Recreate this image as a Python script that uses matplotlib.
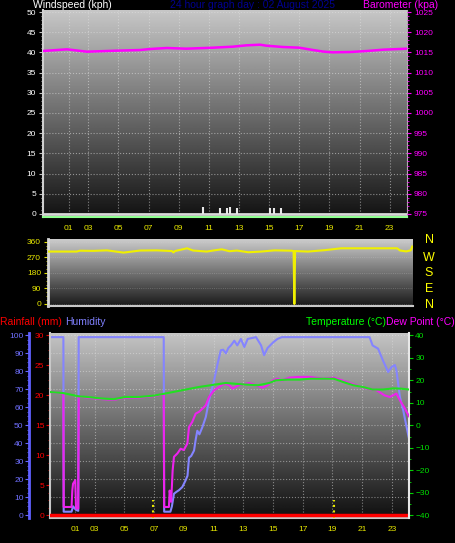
import numpy as np
import matplotlib
matplotlib.use('Agg')
import matplotlib.pyplot as plt
from matplotlib.ticker import MultipleLocator

plt.rcParams['font.family'] = ['Liberation Sans', 'DejaVu Sans']

# hours of the day and tick labels shared by the panels
tick_hours = [1.7, 3, 5, 7, 9, 11, 13, 15, 17, 19, 21, 23]
tick_labels = ['01', '03', '05', '07', '09', '11', '13', '15', '17', '19', '21', '23']

# barometer (hPa)
baro_t = [0, 1.59, 2.91, 4.9, 6.44, 7.1, 8.2, 9.5, 11.3, 12.6, 13.5, 14.4, 14.8,
          15.9, 17.0, 17.9, 18.6, 19.2, 20.4, 21.5, 22.6, 24.15]
baro_v = [1015.35, 1015.76, 1015.18, 1015.43, 1015.59, 1015.84, 1016.09, 1015.92,
          1016.17, 1016.42, 1016.75, 1016.91, 1016.67, 1016.34, 1016.17, 1015.6,
          1015.2, 1015.02, 1015.1, 1015.35, 1015.68, 1015.92]

# windspeed (all calm) and gusts
wind_t = [0, 24.15]
wind_v = [0, 0]
gust_t = [10.6, 11.75, 12.2, 12.4, 12.9, 15.05, 15.3, 15.8]
gust_v = [1.8, 1.6, 1.6, 1.8, 1.6, 1.6, 1.6, 1.6]

# wind direction (deg)
wdir_t = [0, 1.9, 2.1, 3.0, 3.9, 5.0, 6.1, 7.2, 8.2, 8.3, 8.4, 9.2, 9.6, 10.5, 11.0,
          11.5, 12.0, 12.5, 13.25, 14.1, 15.0, 16.1, 16.25, 16.3, 16.35, 17.2, 18.3,
          18.8, 19.4, 23.1, 23.3, 23.7, 24.0, 24.1]
wdir_v = [303, 303, 308, 307, 310, 297, 309, 310, 306, 298, 306, 322, 309, 303, 310,
          316, 305, 309, 299, 303, 310, 308, 306, 0, 306, 303, 311, 316, 322, 322,
          309, 304, 310, 332]
compass = ['N', 'W', 'S', 'E', 'N']

# humidity (%)
hum_t = [0, 0.9, 0.92, 1.45, 1.55, 1.65, 1.75, 1.9, 1.93, 7.65, 7.68, 8.1, 8.2, 8.34,
         8.5, 8.68, 8.9, 9.12, 9.25, 9.35, 9.5, 9.69, 9.8, 9.91, 10.05, 10.25, 10.48,
         10.7, 11.04, 11.27, 11.49, 11.65, 11.83, 12.0, 12.17, 12.4, 12.6, 12.84,
         13.07, 13.3, 13.86, 14.2, 14.4, 14.64, 15.0, 15.3, 15.6, 21.5, 21.7, 22.07,
         22.4, 22.75, 22.98, 23.2, 23.3, 23.54, 23.77, 23.99, 24.15]
hum_v = [99, 99, 2, 2, 5, 4, 3, 2.5, 99, 99, 2, 2, 5, 12, 13, 14, 15.7, 19.4, 22, 32,
         33, 36, 42, 47, 45, 49, 54.6, 64, 75, 84, 91.7, 92, 90, 93, 94.4, 97, 94.4,
         98, 93.5, 98, 99, 94.4, 89, 93, 96, 98, 99, 99, 94.4, 92.6, 86, 79.6, 82.4,
         83.5, 80.7, 65.7, 58, 49, 42.6]

# temperature (C)
temp_t = [0, 0.9, 1.92, 2.5, 3.5, 4.3, 5.07, 6.0, 7.0, 7.66, 8.9, 10.0, 11.2, 11.83,
          12.95, 14.0, 14.75, 15.2, 16.0, 16.8, 17.5, 19.1, 19.7, 20.4, 21.06, 21.7,
          22.4, 23.1, 23.6, 24.15]
temp_v = [14.8, 14.3, 12.9, 12.6, 11.9, 11.6, 12.6, 12.6, 13.2, 14.0, 15.6, 17.0,
          18.2, 18.8, 18.2, 17.8, 18.8, 20.0, 20.3, 20.3, 20.7, 20.7, 19.3, 17.8,
          17.0, 15.9, 15.9, 16.4, 16.3, 15.9]

# dew point (C)
dew_t = [0, 0.9, 0.92, 1.45, 1.5, 1.55, 1.7, 1.75, 1.9, 1.93, 2.5, 3.5, 4.3, 5.07,
         6.0, 7.0, 7.65, 7.68, 8.0, 8.05, 8.15, 8.25, 8.34, 8.57, 8.79, 9.0, 9.24,
         9.35, 9.57, 9.8, 10.03, 10.25, 10.48, 10.7, 11.04, 11.38, 11.72, 12.06,
         12.28, 12.7, 13.4, 13.86, 14.3, 14.64, 15.0, 15.3, 15.6, 16.1, 16.7, 17.5,
         18.4, 19.1, 19.94, 20.6, 21.3, 21.97, 22.5, 22.86, 23.3, 23.54, 23.88, 24.15]
dew_v = [14.8, 14.1, -36.3, -36.3, -29, -26, -24.4, -37, -37, 12.9, 12.3, 11.6, 11.3,
         12.3, 12.3, 13, 13.8, -36.3, -36.3, -29, -34, -20, -14, -12.5, -10.4, -11,
         -8.1, -0.8, 1.5, 5.2, 6, 7.4, 8.9, 12.6, 15.6, 17, 18.5, 17.8, 16.3, 17.8,
         18.8, 17.8, 16.7, 17.8, 20, 20.7, 19.9, 21.2, 21.5, 21.5, 20.7, 21.2, 19.3,
         17.8, 16.3, 15.6, 13.3, 12.6, 14.1, 11.1, 7.4, 4]

# rainfall (mm) and sunrise / sunset markers
rain_t = [0, 24.15]
rain_v = [0, 0]
sun_marks = [6.95, 19.1]

W, H = 455, 543
XMAX = 24.15


def gradient_bg(ax, top, bottom):
    g = np.linspace(bottom, top, 256).reshape(-1, 1)
    ax.imshow(g, extent=[0, 1, 0, 1], transform=ax.transAxes, origin='lower',
              aspect='auto', cmap='gray', vmin=0, vmax=1, zorder=0,
              interpolation='bilinear')


fig = plt.figure(figsize=(W / 100, H / 100), dpi=100, facecolor='black')

# ---------------- top: windspeed / barometer ----------------
ax1 = fig.add_axes([43 / W, 1 - 217 / H, 364 / W, 207 / H])
gradient_bg(ax1, 0.78, 0.07)
ax1.plot(wind_t, wind_v, color='#d8d8d8', lw=2, zorder=3)
ax1.vlines(gust_t, 0, gust_v, color='#e8e8e8', lw=1.5, zorder=3)
ax1.set_xlim(0, XMAX)
ax1.set_ylim(-0.75, 50.5)
ax1.set_yticks(range(0, 51, 5))
ax1.yaxis.set_minor_locator(MultipleLocator(1))
ax1.set_xticks(tick_hours)
ax1.set_xticklabels(tick_labels)
ax1.grid(True, color='#e0e0e0', ls=':', lw=0.8, alpha=0.55)
ax1.tick_params(axis='x', length=0, pad=6, labelcolor='#e8e800', labelsize=6)
ax1.tick_params(axis='y', which='major', length=3, color='#c0c0c0',
                labelcolor='white', labelsize=6, pad=2)
ax1.tick_params(axis='y', which='minor', length=1.5, color='#c0c0c0')
ax1.spines['top'].set_visible(False)
ax1.spines['left'].set_color('#d0d0d0')
ax1.spines['left'].set_linewidth(1.5)
ax1.spines['right'].set_color('#b0b0b0')
ax1.spines['bottom'].set_color('#90ff90')
ax1.spines['bottom'].set_linewidth(1.5)

ax1b = ax1.twinx()
ax1b.plot(baro_t, baro_v, color='#ff00ff', lw=1.8, zorder=4)
ax1b.set_ylim(975 - 0.75, 1025.5)
ax1b.set_yticks(range(975, 1026, 5))
ax1b.yaxis.set_minor_locator(MultipleLocator(1))
ax1b.tick_params(axis='y', which='major', length=3, color='#ff00ff',
                 labelcolor='#ff00ff', labelsize=6, pad=2)
ax1b.tick_params(axis='y', which='minor', length=1.5, color='#ff00ff')
for s in ['top', 'left', 'bottom', 'right']:
    ax1b.spines[s].set_visible(False)

fig.text(33 / W, 1 - 8.5 / H, 'Windspeed (kph)', color='white', fontsize=7.5,
         va='baseline', ha='left')
fig.text(253 / W, 1 - 8.5 / H, '24 hour graph day : 02 August 2025', color='#000090',
         fontsize=7.5, va='baseline', ha='center')
fig.text(438 / W, 1 - 8.5 / H, 'Barometer (kpa)', color='#ff00ff', fontsize=7.5,
         va='baseline', ha='right')

# ---------------- middle: wind direction ----------------
ax2 = fig.add_axes([48 / W, 1 - 306 / H, 365 / W, 67 / H])
gradient_bg(ax2, 0.8, 0.1)
ax2.plot(wdir_t, wdir_v, color='#f0f000', lw=1.5, zorder=3)
ax2.set_xlim(0, XMAX)
ax2.set_ylim(-11.6, 375.6)
ax2.set_yticks([0, 90, 180, 270, 360])
ax2.yaxis.set_minor_locator(MultipleLocator(22.5))
ax2.set_xticks([])
ax2.grid(True, axis='y', color='#d0d0d0', ls=':', lw=0.6, alpha=0.35)
ax2.tick_params(axis='y', which='major', length=3, color='#e0e000',
                labelcolor='#e8e800', labelsize=6, pad=2)
ax2.tick_params(axis='y', which='minor', length=1.5, color='#e0e000')
ax2.spines['top'].set_visible(False)
ax2.spines['right'].set_visible(False)
ax2.spines['left'].set_color('#d8d8d8')
ax2.spines['left'].set_linewidth(2)
ax2.spines['bottom'].set_color('#c8c8c8')
ax2.spines['bottom'].set_linewidth(1.5)

for lab, yp in zip(compass, [240, 258, 273, 289, 305]):
    fig.text(429 / W, 1 - yp / H, lab, color='#ffff00', fontsize=9,
             ha='center', va='center')

# ---------------- bottom: rain / humidity / temperature ----------------
ax3 = fig.add_axes([50 / W, 1 - 518 / H, 359 / W, 185 / H])
gradient_bg(ax3, 0.77, 0.06)
ax3.plot(hum_t, hum_v, color='#8484ff', lw=1.5, zorder=3)
ax3.vlines(sun_marks, -1.5, 8.5, color='#e8e800', lw=1.5, ls=':', zorder=3)
ax3.set_xlim(0, XMAX)
ax3.set_ylim(-1.5, 101.3)
ax3.set_yticks(range(0, 101, 10))
ax3.yaxis.set_minor_locator(MultipleLocator(2.5))
ax3.set_xticks(tick_hours)
ax3.set_xticklabels(tick_labels)
ax3.grid(True, color='#e0e0e0', ls=':', lw=0.8, alpha=0.5)
ax3.tick_params(axis='x', length=0, pad=6, labelcolor='#e8e800', labelsize=6)
ax3.tick_params(axis='y', which='major', length=3, color='#6464ff',
                labelcolor='#7070ff', labelsize=6, pad=1)
ax3.tick_params(axis='y', which='minor', length=1.5, color='#6464ff')
ax3.spines['left'].set_position(('outward', 15))
ax3.spines['left'].set_color('#6060ff')
ax3.spines['left'].set_linewidth(2)
ax3.spines['top'].set_visible(False)
ax3.spines['right'].set_visible(False)
ax3.spines['bottom'].set_color('#c8c8c8')
ax3.spines['bottom'].set_linewidth(1.5)

ax_rain = ax3.twinx()
ax_rain.yaxis.tick_left()
ax_rain.plot(rain_t, rain_v, color='#ff0000', lw=2.5, zorder=5)
ax_rain.set_ylim(-0.45, 30.39)
ax_rain.set_yticks(range(0, 31, 5))
ax_rain.yaxis.set_minor_locator(MultipleLocator(1.25))
ax_rain.tick_params(axis='y', which='major', length=3, color='#e00000',
                    labelcolor='#ff0000', labelsize=6, pad=1)
ax_rain.tick_params(axis='y', which='minor', length=1.5, color='#e00000')
for s in ['top', 'right', 'bottom']:
    ax_rain.spines[s].set_visible(False)
ax_rain.spines['left'].set_color('#c8c8c8')
ax_rain.spines['left'].set_linewidth(1.5)

ax_temp = ax3.twinx()
ax_temp.plot(temp_t, temp_v, color='#22e022', lw=1.5, zorder=4)
ax_temp.plot(dew_t, dew_v, color='#ee22ee', lw=1.5, zorder=3)
ax_temp.set_ylim(-41.2, 41.02)
ax_temp.set_yticks(range(-40, 41, 10))
ax_temp.yaxis.set_minor_locator(MultipleLocator(5))
ax_temp.tick_params(axis='y', which='major', length=3, color='#00d000',
                    labelcolor='#00e000', labelsize=6, pad=1.5)
ax_temp.tick_params(axis='y', which='minor', length=1.5, color='#00d000')
for s in ['top', 'left', 'bottom']:
    ax_temp.spines[s].set_visible(False)
ax_temp.spines['right'].set_color('#e8e8e8')
ax_temp.spines['right'].set_linewidth(1.5)

fig.text(0, 1 - 325 / H, 'Rainfall (mm)', color='#ff0000', fontsize=7.5,
         va='baseline', ha='left')
fig.text(65 / W, 1 - 325 / H, 'Humidity', color='#8080ff', fontsize=7.5,
         va='baseline', ha='left')
fig.text(306 / W, 1 - 325 / H, 'Temperature (\u00b0C)', color='#00ff00', fontsize=7.5,
         va='baseline', ha='left')
fig.text(1.0, 1 - 325 / H, 'Dew Point (\u00b0C)', color='#ff00ff', fontsize=7.5,
         va='baseline', ha='right')

fig.savefig('out.png', dpi=100, facecolor='black')
